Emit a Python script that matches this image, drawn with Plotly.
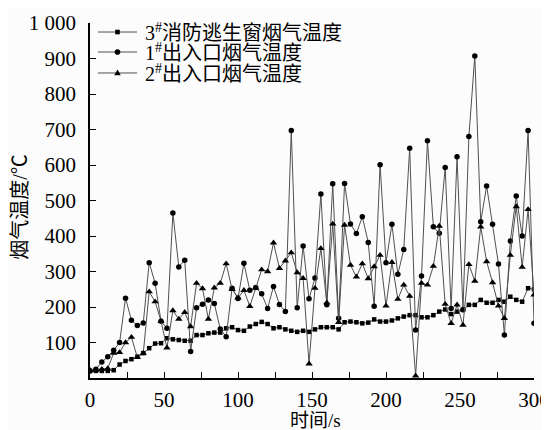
import plotly.graph_objects as go

time_s = list(range(0, 301, 4))

temp_3_window = [
    20, 20, 20, 20, 22,
    38, 48, 53, 60, 70, 84, 97, 98,
    112, 109, 107, 105, 105, 121, 121, 126, 128, 128, 140, 143, 135,
    133, 145, 152, 158, 152, 140, 143, 137, 133, 130, 133, 130, 137, 143, 143, 143, 137, 157, 159, 157,
    154, 156, 165, 159, 159, 162, 168, 173, 177, 177, 171, 171, 177, 187, 193, 180, 187, 192, 206, 206,
    220, 212, 212, 220, 215, 229, 220, 215, 253, 250,
]

temp_1_exit = [
    20, 25, 45, 60, 78, 100, 225, 163, 148, 155, 325, 267, 160, 140,
    465, 313, 332, 75, 198, 208, 220, 210, 138, 116, 253, 224,
    323, 247, 255, 237, 196, 258, 207, 187, 697, 198, 372, 223, 282, 518, 206, 547, 168, 548, 434, 407,
    454, 382, 202, 601, 325, 433, 292, 362, 647, 135, 287, 668, 426, 408, 593, 196, 623, 192, 680, 907,
    440, 541, 433, 321, 121, 386, 513, 400, 697, 154,
]

temp_2_exit = [
    22, 22, 25, 27, 70, 72, 100, 115, 58, 70, 243, 215, 160, 85,
    190, 166, 185, 145, 267, 252, 166, 254, 267, 322, 250, 226,
    247, 202, 253, 305, 300, 381, 309, 330, 353, 297, 281, 40, 253, 365, 212, 434, 157, 431, 318, 285,
    322, 280, 314, 346, 203, 326, 222, 262, 231, 6, 267, 262, 315, 428, 208, 154, 206, 149, 320, 273,
    426, 328, 269, 203, 168, 346, 483, 312, 475, 234,
]

series_names = ["3<sup>#</sup>消防逃生窗烟气温度", "1<sup>#</sup>出入口烟气温度", "2<sup>#</sup>出入口烟气温度"]
series_symbols = ["square", "circle", "triangle-up"]

y_tickvals = [100, 200, 300, 400, 500, 600, 700, 800, 900, 1000]
y_ticktext = ["100", "200", "300", "400", "500", "600", "700", "800", "900", "1 000"]
x_tickvals = [0, 50, 100, 150, 200, 250, 300]

FONT = "'Liberation Serif', 'Times New Roman', 'Noto Sans CJK SC', serif"
LINE_COLOR = "#505050"
FS = 21

fig = go.Figure()
for vals, name, sym, size in zip(
    [temp_3_window, temp_1_exit, temp_2_exit], series_names, series_symbols, [4.5, 5.5, 6.5]
):
    fig.add_trace(go.Scatter(
        x=time_s, y=vals, name=name, mode="lines+markers",
        line=dict(color=LINE_COLOR, width=1),
        marker=dict(symbol=sym, size=size, color="black", line=dict(width=0)),
        showlegend=False,
    ))

# Manual legend (line samples, markers and labels) placed in paper coordinates
legend_rows_y = [0.9746, 0.9183, 0.8592]
lx0, lx1, lxm, ltx = 0.018, 0.1059, 0.0619, 0.1194
shapes = []
annotations = []
for ry, name, sym in zip(legend_rows_y, series_names, series_symbols):
    shapes.append(dict(type="line", xref="paper", yref="paper", x0=lx0, x1=lx1, y0=ry, y1=ry,
                       line=dict(color=LINE_COLOR, width=1)))
    common = dict(xref="paper", yref="paper", xsizemode="pixel", ysizemode="pixel",
                  xanchor=lxm, yanchor=ry, fillcolor="black", line=dict(width=0))
    if sym == "square":
        shapes.append(dict(type="rect", x0=-2.3, x1=2.3, y0=-2.3, y1=2.3, **common))
    elif sym == "circle":
        shapes.append(dict(type="circle", x0=-2.8, x1=2.8, y0=-2.8, y1=2.8, **common))
    else:
        shapes.append(dict(type="path", path="M -3.3 -2.2 L 3.3 -2.2 L 0 3.4 Z", **common))
    annotations.append(dict(xref="paper", yref="paper", x=ltx, y=ry, xanchor="left", yanchor="middle",
                            text=name, showarrow=False, font=dict(family=FONT, size=20, color="black")))

annotations.append(dict(xref="paper", yref="paper", x=-0.158, y=0.4817, xanchor="center", yanchor="middle",
                        text="烟气温度/℃", textangle=-90, showarrow=False,
                        font=dict(family=FONT, size=20, color="black")))
annotations.append(dict(xref="paper", yref="paper", x=0.509, y=-0.12, xanchor="center", yanchor="middle",
                        text="时间/s", showarrow=False, font=dict(family=FONT, size=19, color="black")))

# The page body adds an 8 px offset, so the figure is sized to the visible window area.
fig.update_layout(
    width=541, height=422,
    margin=dict(l=82, r=15, t=15, b=52),
    paper_bgcolor="#fcfcfc", plot_bgcolor="#fcfcfc",
    font=dict(family=FONT, size=FS, color="black"),
    showlegend=False,
    shapes=shapes,
    annotations=annotations,
)
fig.update_xaxes(
    range=[0, 300], tickvals=x_tickvals, ticks="inside", ticklen=6, tickwidth=1.2,
    tickcolor="black", showline=True, linecolor="black", linewidth=1.5,
    showgrid=False, zeroline=False, automargin=False, ticklabelstandoff=2,
    ticklabeloverflow="allow",
    minor=dict(dtick=25, tick0=0, ticks="inside", ticklen=6, tickwidth=1.2, tickcolor="black", showgrid=False),
    tickfont=dict(family=FONT, size=FS),
)
fig.update_yaxes(
    range=[0, 1000], tickvals=y_tickvals, ticktext=y_ticktext, ticks="inside", ticklen=6, tickwidth=1.2,
    tickcolor="black", showline=True, linecolor="black", linewidth=1.5,
    showgrid=False, zeroline=False, automargin=False, ticklabelstandoff=8,
    ticklabeloverflow="allow",
    tickfont=dict(family=FONT, size=FS),
)

fig.write_html("out.html")
